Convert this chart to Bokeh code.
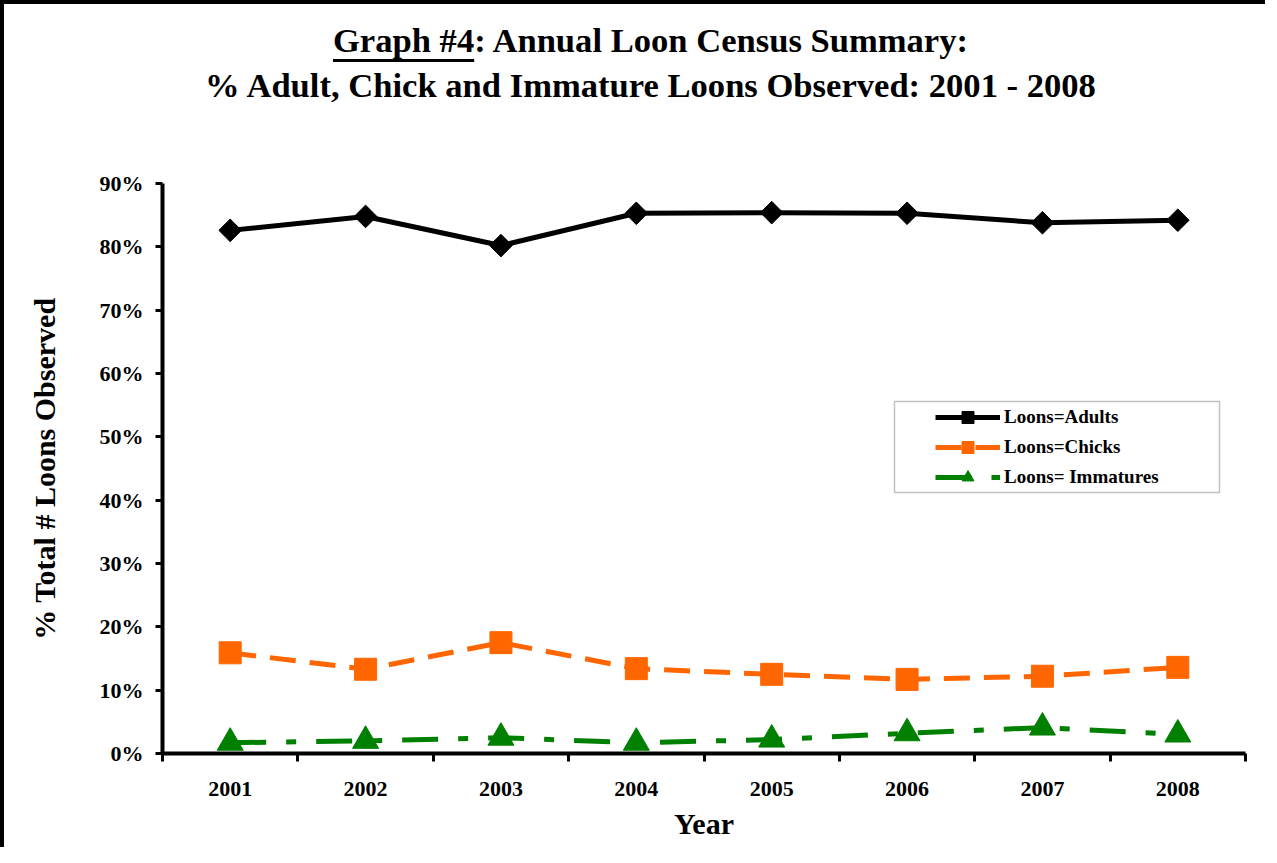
import math
from bokeh.plotting import figure
from bokeh.models import (Range1d, FixedTicker, NumeralTickFormatter, Legend, LegendItem,
                          BoxAnnotation, ColumnDataSource, Div)
from bokeh.layouts import column
from bokeh.embed import file_html
from bokeh.resources import INLINE

# ---------------- data ----------------
years = ["2001", "2002", "2003", "2004", "2005", "2006", "2007", "2008"]
adults = [0.826, 0.848, 0.802, 0.853, 0.854, 0.853, 0.838, 0.842]
chicks = [0.159, 0.133, 0.175, 0.134, 0.125, 0.117, 0.122, 0.136]
immatures = [0.017, 0.020, 0.025, 0.017, 0.022, 0.032, 0.041, 0.030]
y_ticks = [0.0, 0.1, 0.2, 0.3, 0.4, 0.5, 0.6, 0.7, 0.8, 0.9]

title_underlined = "Graph #4"
title_1_rest = ": Annual Loon Census Summary:"
title_2 = "% Adult, Chick and Immature Loons Observed: 2001 - 2008"
x_title = "Year"
y_title = "% Total # Loons Observed"
series_names = ["Loons=Adults", "Loons=Chicks", "Loons= Immatures"]

FONT = "Liberation Serif"
xs = list(range(1, len(years) + 1))

title_div = Div(
    text=(f'<div style="display:block;box-sizing:border-box;width:1261px;'
          f'font-family:\'{FONT}\';font-weight:bold;'
          f'font-size:34.6px;line-height:45px;color:black;text-align:center;padding-top:14px;'
          f'padding-left:32px;white-space:nowrap;">'
          f'<span style="text-decoration:underline;text-decoration-thickness:3px;'
          f'text-underline-offset:7px;">{title_underlined}</span>{title_1_rest}<br>'
          f'{title_2}</div>'),
    width=1261, height=130, margin=0)

p = figure(width=1261, height=713, output_backend="svg", toolbar_location=None,
           x_range=Range1d(0.5, len(years) + 0.5), y_range=Range1d(0, 0.9),
           min_border_left=158, min_border_right=20, min_border_top=49,
           min_border_bottom=94, margin=0)
p.outline_line_color = None
p.grid.visible = False
p.background_fill_color = "white"
p.border_fill_color = "white"

# axes
xa = p.xaxis[0]
xa.ticker = FixedTicker(ticks=xs, minor_ticks=[x - 0.5 for x in xs] + [len(xs) + 0.5])
xa.major_label_overrides = {x: y for x, y in zip(xs, years)}
xa.major_tick_out = 0
xa.major_tick_in = 0
xa.minor_tick_out = 8
xa.minor_tick_in = 0
xa.minor_tick_line_width = 3
xa.minor_tick_line_color = "black"
xa.axis_line_width = 4
xa.axis_line_color = "black"
xa.major_label_text_font = FONT
xa.major_label_text_font_style = "bold"
xa.major_label_text_font_size = "22px"
xa.major_label_text_color = "black"
xa.major_label_standoff = 20
xa.axis_label = x_title
xa.axis_label_text_font = FONT
xa.axis_label_text_font_style = "bold"
xa.axis_label_text_font_size = "30px"
xa.axis_label_text_color = "black"
xa.axis_label_standoff = 8

ya = p.yaxis[0]
ya.ticker = FixedTicker(ticks=y_ticks, minor_ticks=[])
ya.formatter = NumeralTickFormatter(format="0%")
ya.bounds = (0, 0.9)
ya.major_tick_out = 7
ya.major_tick_in = 0
ya.major_tick_line_width = 3
ya.axis_line_width = 4
ya.axis_line_color = "black"
ya.major_label_text_font = FONT
ya.major_label_text_font_style = "bold"
ya.major_label_text_font_size = "22px"
ya.major_label_text_color = "black"
ya.major_label_standoff = 12
ya.axis_label = y_title
ya.axis_label_text_font = FONT
ya.axis_label_text_font_style = "bold"
ya.axis_label_text_font_size = "30px"
ya.axis_label_text_color = "black"
ya.axis_label_standoff = 36

src = ColumnDataSource(dict(x=xs, adults=adults, chicks=chicks, immatures=immatures))

l1 = p.line("x", "adults", source=src, line_color="black", line_width=5)
m1 = p.scatter("x", "adults", source=src, marker="square", angle=math.pi / 4, size=16,
               fill_color="black", line_color="black")
l2 = p.line("x", "chicks", source=src, line_color="#FF6600", line_width=5, line_dash="26 14")
m2 = p.scatter("x", "chicks", source=src, marker="square", size=22,
               fill_color="#FF6600", line_color="#FF6600")
l3 = p.line("x", "immatures", source=src, line_color="#008000", line_width=5,
            line_dash="36 20 10 20")
m3 = p.scatter("x", "immatures", source=src, marker="triangle", size=26,
               fill_color="#008000", line_color="#008000")

legend = Legend(items=[LegendItem(label=series_names[0], renderers=[l1, m1]),
                       LegendItem(label=series_names[1], renderers=[l2, m2]),
                       LegendItem(label=series_names[2], renderers=[l3, m3])],
                location=(773, 261), padding=0, spacing=0, glyph_width=65, glyph_height=30,
                label_height=20, label_standoff=4, margin=0,
                border_line_alpha=0, background_fill_alpha=0,
                label_text_font=FONT, label_text_font_style="bold",
                label_text_font_size="19px", label_text_color="black")
p.add_layout(legend, "center")

# legend frame
p.add_layout(BoxAnnotation(left=5.907, right=8.308, top=0.5558, bottom=0.4121,
                           fill_alpha=0, line_color="#333333", line_width=1.5))

page = column(title_div, p, spacing=0,
              styles={"border-left": "4px solid black", "border-top": "4px solid black"})

open("out.html", "w").write(file_html(page, INLINE))
